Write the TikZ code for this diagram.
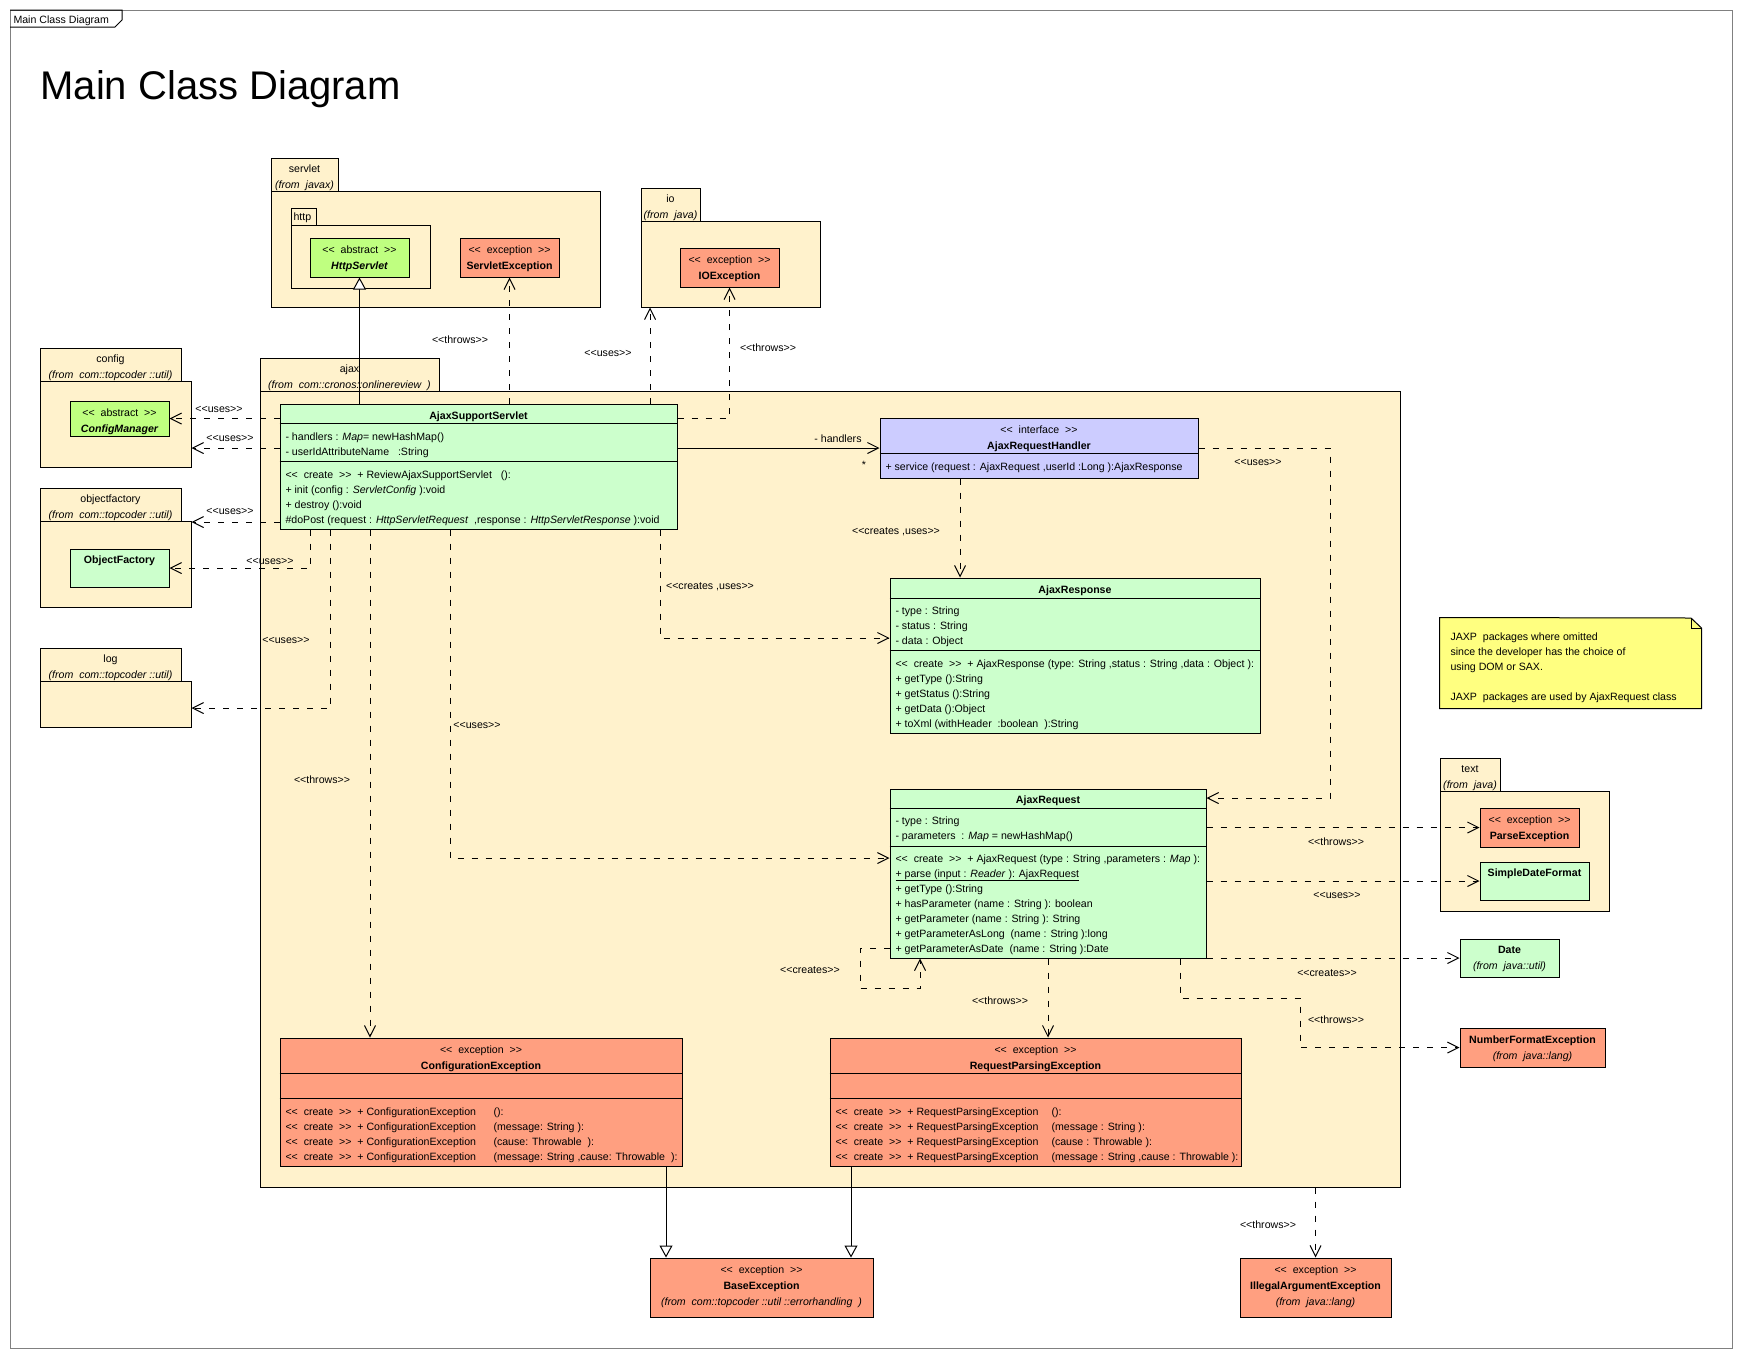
\documentclass[tikz,border=0pt]{standalone}
\usepackage{fontspec}
\newfontfamily\umlf{Liberation Sans}
\usetikzlibrary{arrows.meta,fit}
\definecolor{pkgc}{HTML}{FFF2CC}
\definecolor{clsc}{HTML}{CCFFCC}
\definecolor{absc}{HTML}{BFFF80}
\definecolor{excc}{HTML}{FF9F80}
\definecolor{ifcc}{HTML}{CCCCFF}
\definecolor{notec}{HTML}{FFFF80}
\definecolor{framec}{HTML}{808080}
\newcommand{\ubox}[6]{\node[umlbox, fill=#2, fit={(#3,#4) (#5,#6)}] (#1) {};}
\newcommand{\tl}[4]{\node[txt] (#1) at (#2,#3) {#4};}
\newcommand{\tc}[4]{\node[txt, anchor=base] (#1) at (#2,#3) {#4};}
\newcommand{\hdiv}[2]{\draw (#1.west |- 0,#2) -- (#1.east |- 0,#2);}
\newcommand{\st}[1]{<<~~#1~~>>}
\begin{document}
\begin{tikzpicture}[x=1pt, y=-1pt, line width=1pt,
  umlbox/.style={draw, inner sep=0pt, line width=1pt},
  txt/.style={font=\umlf\fontsize{10.6}{13}\selectfont, inner sep=0pt, anchor=base west},
  dep/.style={dash pattern=on 6pt off 8pt, -{Straight Barb[length=11pt,width=11pt]}},
  gen/.style={-{Triangle[length=12pt,width=13pt,fill=white]}},
  assoc/.style={-{Straight Barb[length=11pt,width=11pt]}}]
\useasboundingbox (0,0) rectangle (1742,1358);
% frame
\node[draw=framec, inner sep=0pt, fit={(10,10) (1732,1348)}] (frame) {};
\draw (10,10) -- (122,10) -- (122,20) -- (115,27) -- (10,27);
\tl{flab}{13}{23}{Main Class Diagram}
\node[font=\umlf\fontsize{40}{48}\selectfont, inner sep=0pt, anchor=base west] (title) at (40,99) {Main Class Diagram};
% packages
\ubox{svt}{pkgc}{271}{158}{338}{191} \ubox{svb}{pkgc}{271}{191}{600}{307}
\ubox{htt}{pkgc}{291}{208}{316}{225} \ubox{htb}{pkgc}{291}{225}{430}{288}
\ubox{iot}{pkgc}{641}{188}{700}{221} \ubox{iob}{pkgc}{641}{221}{820}{307}
\ubox{ajt}{pkgc}{260}{358}{439}{391} \ubox{ajb}{pkgc}{260}{391}{1400}{1187}
\ubox{cft}{pkgc}{40}{348}{181}{381} \ubox{cfb}{pkgc}{40}{381}{191}{467}
\ubox{oft}{pkgc}{40}{488}{181}{521} \ubox{ofb}{pkgc}{40}{521}{191}{607}
\ubox{lgt}{pkgc}{40}{648}{181}{681} \ubox{lgb}{pkgc}{40}{681}{191}{727}
\ubox{tpt}{pkgc}{1440}{758}{1500}{791} \ubox{tpb}{pkgc}{1440}{791}{1609}{911}
% classes
\ubox{hs}{absc}{310}{238}{409}{277}
\ubox{se}{excc}{460}{238}{559}{277}
\ubox{ioe}{excc}{680}{248}{779}{287}
\ubox{cm}{absc}{70}{401}{169}{436}
\ubox{of}{clsc}{70}{549}{169}{587}
\ubox{ass}{clsc}{280}{404}{677}{529}
\ubox{arh}{ifcc}{880}{418}{1198}{478}
\ubox{aresp}{clsc}{890}{578}{1260}{733}
\ubox{areq}{clsc}{890}{789}{1206}{958}
\ubox{ce}{excc}{280}{1038}{682}{1166}
\ubox{rpe}{excc}{830}{1038}{1241}{1166}
\ubox{pe}{excc}{1480}{808}{1579}{847}
\ubox{sdf}{clsc}{1480}{862}{1589}{900}
\ubox{date}{clsc}{1460}{939}{1559}{977}
\ubox{nfe}{excc}{1460}{1028}{1605}{1067}
\ubox{be}{excc}{650}{1258}{873}{1317}
\ubox{iae}{excc}{1240}{1258}{1391}{1317}
% note
\node[inner sep=0pt, fit={(1440,618) (1701,708)}] (note) {};
\draw[fill=notec] (note.north west) -- (1691,618) -- (note.north east |- 0,628) -- (note.south east) -- (note.south west) -- cycle;
\draw (1691,618) -- (1691,628) -- (1701,628);
% dividers
\hdiv{ass}{423}\hdiv{ass}{461}
\hdiv{arh}{453}
\hdiv{aresp}{598}\hdiv{aresp}{650}
\hdiv{areq}{808}\hdiv{areq}{846}
\hdiv{ce}{1073}\hdiv{ce}{1098}
\hdiv{rpe}{1073}\hdiv{rpe}{1098}
% connectors
\draw[gen] (hs.south |- ass.north) -- (hs.south);
\draw[dep] (se.south |- ass.north) -- (se.south);
\draw[dep] (ass.north -| 650,0) -- (iob.south -| 650,0);
\draw[dep] (ass.east |- 0,418) -| (ioe.south);
\draw[assoc] (ass.east |- arh.west) -- (arh.west);
\draw[dep] (ass.west |- cm.east) -- (cm.east);
\draw[dep] (ass.west |- 0,448) -- (cfb.east |- 0,448);
\draw[dep] (ass.west |- 0,522) -- (ofb.east |- 0,522);
\draw[dep] (ass.south -| 310,0) |- (of.east);
\draw[dep] (ass.south -| 330,0) |- (lgb.east |- 0,708);
\draw[dep] (ass.south -| 370,0) -- (ce.north -| 370,0);
\draw[dep] (ass.south -| 450,0) |- (areq.west |- 0,858);
\draw[dep] (ass.south -| 660,0) |- (aresp.west |- 0,638);
\draw[dep] (arh.south -| 960,0) -- (aresp.north -| 960,0);
\draw[dep] (arh.east) -| (1330,798) -- (areq.east |- 0,798);
\draw[dep] (areq.east |- pe.west) -- (pe.west);
\draw[dep] (areq.east |- sdf.west) -- (sdf.west);
\draw[dep] (areq.east |- date.west) -- (date.west);
\draw[dep] (areq.south -| 1180,0) |- (1300,998) |- (nfe.west);
\draw[dep] (areq.west |- 0,948) -| (860,988) -| (areq.south -| 920,0);
\draw[dep] (areq.south -| 1048,0) -- (rpe.north -| 1048,0);
\draw[gen] (ce.south -| 666,0) -- (be.north -| 666,0);
\draw[gen] (rpe.south -| 851,0) -- (be.north -| 851,0);
\draw[dep] (iae.north |- ajb.south) -- (iae.north);
% package labels
\tc{svl1}{304.5}{172}{servlet} \tc{svl2}{304.5}{188}{\itshape(from~~javax)}
\tl{htl}{293}{220}{http}
\tc{iol1}{670.5}{202}{io} \tc{iol2}{670.5}{218}{\itshape(from~~java)}
\tc{ajl1}{349.5}{372}{ajax} \tc{ajl2}{349.5}{388}{\itshape(from~~com::cronos::onlinereview~~)}
\tc{cfl1}{110.5}{362}{config} \tc{cfl2}{110.5}{378}{\itshape(from~~com::topcoder~::util)}
\tc{ofl1}{110.5}{502}{objectfactory} \tc{ofl2}{110.5}{518}{\itshape(from~~com::topcoder~::util)}
\tc{lgl1}{110.5}{662}{log} \tc{lgl2}{110.5}{678}{\itshape(from~~com::topcoder~::util)}
\tc{tpl1}{1470}{772}{text} \tc{tpl2}{1470}{788}{\itshape(from~~java)}
% small boxes
\tc{hs1}{359.5}{253}{\st{abstract}} \tc{hs2}{359.5}{269}{\bfseries\itshape HttpServlet}
\tc{se1}{509.5}{253}{\st{exception}} \tc{se2}{509.5}{269}{\bfseries ServletException}
\tc{ioe1}{729.5}{263}{\st{exception}} \tc{ioe2}{729.5}{279}{\bfseries IOException}
\tc{cm1}{119.5}{416}{\st{abstract}} \tc{cm2}{119.5}{432}{\bfseries\itshape ConfigManager}
\tc{of1}{119.5}{563}{\bfseries ObjectFactory}
\tc{pe1}{1529.5}{823}{\st{exception}} \tc{pe2}{1529.5}{839}{\bfseries ParseException}
\tc{sdf1}{1534.5}{876}{\bfseries SimpleDateFormat}
\tc{dt1}{1509.5}{953}{\bfseries Date} \tc{dt2}{1509.5}{969}{\itshape(from~~java::util)}
\tc{nfe1}{1532.5}{1043}{\bfseries NumberFormatException} \tc{nfe2}{1532.5}{1059}{\itshape(from~~java::lang)}
\tc{be1}{761.5}{1273}{\st{exception}} \tc{be2}{761.5}{1289}{\bfseries BaseException} \tc{be3}{761.5}{1305}{\itshape(from~~com::topcoder~::util~::errorhandling~~)}
\tc{iae1}{1315.5}{1273}{\st{exception}} \tc{iae2}{1315.5}{1289}{\bfseries IllegalArgumentException} \tc{iae3}{1315.5}{1305}{\itshape(from~~java::lang)}
% AjaxSupportServlet
\tc{as0}{478.5}{419}{\bfseries AjaxSupportServlet}
\tl{as1}{285}{440}{- handlers : \textit{Map}= newHashMap()}
\tl{as2}{285}{455}{- userIdAttributeName~~~:String}
\tl{as3}{285}{478}{\st{create}~~+ ReviewAjaxSupportServlet~~~():}
\tl{as4}{285}{493}{+ init (config : \textit{ServletConfig} ):void}
\tl{as5}{285}{508}{+ destroy ():void}
\tl{as6}{285}{523}{\#doPost (request : \textit{HttpServletRequest}~~,response : \textit{HttpServletResponse} ):void}
% AjaxRequestHandler
\tc{ah1}{1039}{433}{\st{interface}} \tc{ah2}{1039}{449}{\bfseries AjaxRequestHandler}
\tl{ah3}{885}{470}{+ service (request : AjaxRequest~,userId :Long ):AjaxResponse}
% AjaxResponse
\tc{rs0}{1075}{593}{\bfseries AjaxResponse}
\tl{rs1}{895}{614}{- type : String}
\tl{rs2}{895}{629}{- status : String}
\tl{rs3}{895}{644}{- data : Object}
\tl{rs4}{895}{667}{\st{create}~~+ AjaxResponse (type: String ,status : String ,data : Object ):}
\tl{rs5}{895}{682}{+ getType ():String}
\tl{rs6}{895}{697}{+ getStatus ():String}
\tl{rs7}{895}{712}{+ getData ():Object}
\tl{rs8}{895}{727}{+ toXml (withHeader~~:boolean~~):String}
% AjaxRequest
\tc{rq0}{1048}{803}{\bfseries AjaxRequest}
\tl{rq1}{895}{824}{- type : String}
\tl{rq2}{895}{839}{- parameters~~: \textit{Map} = newHashMap()}
\tl{rq3}{895}{862}{\st{create}~~+ AjaxRequest (type : String ,parameters : \textit{Map} ):}
\tl{rq4}{895}{877}{\underline{+ parse (input : \textit{Reader} ): AjaxRequest}}
\tl{rq5}{895}{892}{+ getType ():String}
\tl{rq6}{895}{907}{+ hasParameter (name : String ): boolean}
\tl{rq7}{895}{922}{+ getParameter (name : String ): String}
\tl{rq8}{895}{937}{+ getParameterAsLong~~(name : String ):long}
\tl{rq9}{895}{952}{+ getParameterAsDate~~(name : String ):Date}
% ConfigurationException
\tc{ce1}{481}{1053}{\st{exception}} \tc{ce2}{481}{1069}{\bfseries ConfigurationException}
\tl{ce3}{285}{1115}{\st{create}~~+ ConfigurationException} \tl{ce4}{493}{1115}{():}
\tl{ce5}{285}{1130}{\st{create}~~+ ConfigurationException} \tl{ce6}{493}{1130}{(message: String ):}
\tl{ce7}{285}{1145}{\st{create}~~+ ConfigurationException} \tl{ce8}{493}{1145}{(cause: Throwable~~):}
\tl{ce9}{285}{1160}{\st{create}~~+ ConfigurationException} \tl{ce10}{493}{1160}{(message: String ,cause: Throwable~~):}
% RequestParsingException
\tc{rp1}{1035.5}{1053}{\st{exception}} \tc{rp2}{1035.5}{1069}{\bfseries RequestParsingException}
\tl{rp3}{835}{1115}{\st{create}~~+ RequestParsingException} \tl{rp4}{1051}{1115}{():}
\tl{rp5}{835}{1130}{\st{create}~~+ RequestParsingException} \tl{rp6}{1051}{1130}{(message : String ):}
\tl{rp7}{835}{1145}{\st{create}~~+ RequestParsingException} \tl{rp8}{1051}{1145}{(cause : Throwable ):}
\tl{rp9}{835}{1160}{\st{create}~~+ RequestParsingException} \tl{rp10}{1051}{1160}{(message : String ,cause : Throwable ):}
% note text
\tl{n1}{1450}{640}{JAXP~~packages where omitted}
\tl{n2}{1450}{655}{since the developer has the choice of}
\tl{n3}{1450}{670}{using DOM or SAX.}
\tl{n4}{1450}{700}{JAXP~~packages are used by AjaxRequest class}
% connector labels
\tc{lb1}{460}{343}{<<throws>>}
\tc{lb2}{608}{356}{<<uses>>}
\tc{lb3}{768}{351}{<<throws>>}
\tc{lb4}{838}{442}{- handlers}
\tc{lb4b}{864}{468}{*}
\tc{lb5}{219}{412}{<<uses>>}
\tc{lb6}{230}{441}{<<uses>>}
\tc{lb7}{230}{514}{<<uses>>}
\tc{lb8}{270}{564}{<<uses>>}
\tc{lb9}{286}{643}{<<uses>>}
\tc{lb10}{322}{783}{<<throws>>}
\tc{lb11}{477}{728}{<<uses>>}
\tc{lb12}{710}{589}{<<creates ,uses>>}
\tc{lb13}{896}{534}{<<creates ,uses>>}
\tc{lb14}{1258}{465}{<<uses>>}
\tc{lb15}{1336}{845}{<<throws>>}
\tc{lb16}{1337}{898}{<<uses>>}
\tc{lb17}{1327}{976}{<<creates>>}
\tc{lb18}{1336}{1023}{<<throws>>}
\tc{lb19}{810}{973}{<<creates>>}
\tc{lb20}{1000}{1004}{<<throws>>}
\tc{lb21}{1268}{1228}{<<throws>>}
\end{tikzpicture}
\end{document}
